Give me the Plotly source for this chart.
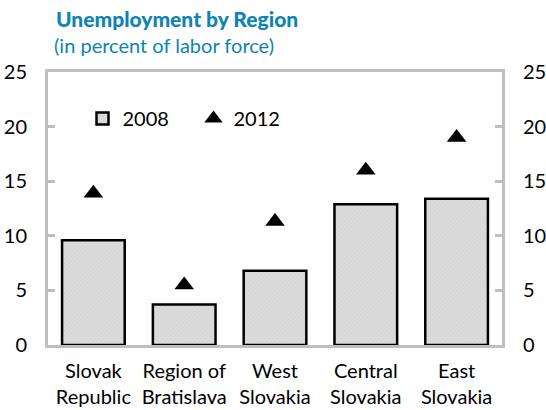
import plotly.graph_objects as go

categories = ["Slovak<br>Republic", "Region of<br>Bratislava", "West<br>Slovakia", "Central<br>Slovakia", "East<br>Slovakia"]
values_2008 = [9.6, 3.7, 6.8, 12.9, 13.4]
values_2012 = [13.9, 5.5, 11.3, 16.0, 19.0]
y_ticks = [0, 5, 10, 15, 20, 25]

FONT = "Lato"
AXIS_GRAY = "#bfbfbf"
TITLE_COLOR = "#0d84b4"

W, H = 546, 410
ML, MR, MT, MB = 48, 44, 72, 65
pw = W - ML - MR
ph = H - MT - MB

fig = go.Figure()
fig.add_trace(go.Bar(
    x=categories, y=values_2008, name="2008",
    marker=dict(color="#d9d9d9", line=dict(color="black", width=2.5),
                pattern=dict(shape="/", fgcolor="#c8c8c8", bgcolor="#dcdcdc", size=3, solidity=0.3)),
    width=0.69,
))
fig.add_trace(go.Scatter(
    x=categories, y=values_2012, name="2012", mode="markers",
    marker=dict(symbol="triangle-up", size=17, color="black"),
))
fig.add_trace(go.Scatter(
    x=categories, y=values_2012, yaxis="y2", mode="markers",
    marker=dict(opacity=0), showlegend=False, hoverinfo="skip",
))

axis_common = dict(
    range=[0, 25], tickvals=y_ticks, showgrid=False, zeroline=False,
    showline=True, linecolor=AXIS_GRAY, linewidth=3, automargin=False,
    ticks="inside", ticklen=7, tickwidth=3, tickcolor=AXIS_GRAY,
    tickfont=dict(family=FONT, size=20, color="black"),
)

fig.update_layout(
    width=W, height=H,
    margin=dict(l=ML, r=MR, t=MT, b=MB, autoexpand=False),
    paper_bgcolor="white", plot_bgcolor="white",
    font=dict(family=FONT, size=20, color="black"),
    showlegend=True,
    legend=dict(orientation="h", x=0.076, y=0.83, xanchor="left", yanchor="middle",
                font=dict(family=FONT, size=20, color="black"),
                itemwidth=30, entrywidth=66, entrywidthmode="pixels",
                bgcolor="rgba(0,0,0,0)", traceorder="normal"),
    xaxis=dict(showline=True, linecolor=AXIS_GRAY, linewidth=3, mirror=True, automargin=False,
               ticklabelstandoff=6,
               showgrid=False, ticks="", tickfont=dict(family=FONT, size=20, color="black")),
    yaxis=dict(side="left", ticklabelstandoff=14, **axis_common),
    yaxis2=dict(side="right", overlaying="y", ticklabelstandoff=14, **axis_common),
)
fig.add_annotation(text="Unemployment by Region", xref="paper", yref="paper",
                   x=(54 - ML) / pw, y=(H - MB - 18) / ph, xanchor="left", yanchor="middle",
                   showarrow=False, font=dict(family=FONT, size=21, weight=900, color=TITLE_COLOR))
fig.add_annotation(text="(in percent of labor force)", xref="paper", yref="paper",
                   x=(52 - ML) / pw, y=(H - MB - 45) / ph, xanchor="left", yanchor="middle",
                   showarrow=False, font=dict(family=FONT, size=20, color=TITLE_COLOR))

fig.write_html("out.html", config={"displayModeBar": False},
               post_script="document.body.style.margin='0';document.body.style.overflow='hidden';")
